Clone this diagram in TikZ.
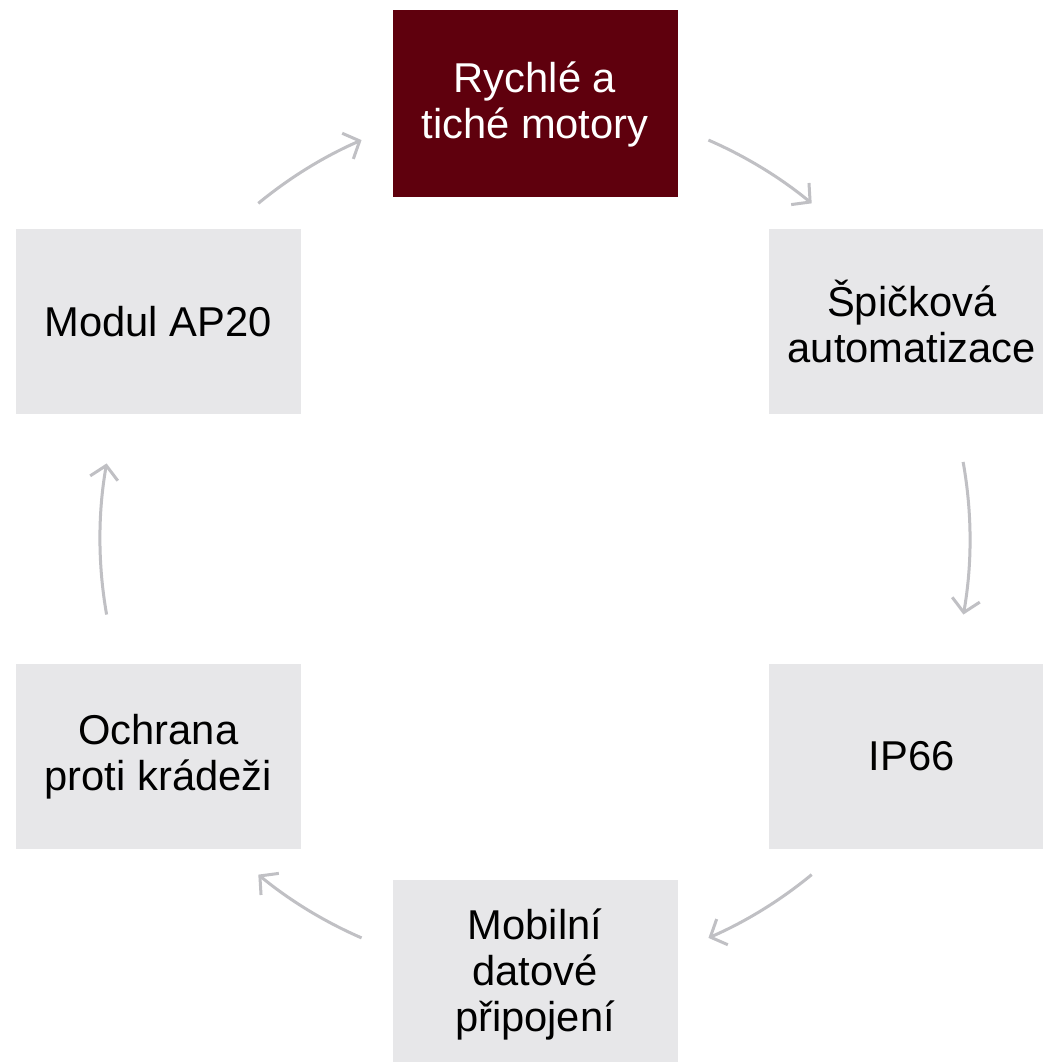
\documentclass[tikz,border=0pt]{standalone}
\usepackage{fontspec}
\setmainfont{Liberation Sans}
\usetikzlibrary{arrows.meta,calc}
\definecolor{boxgray}{HTML}{E7E7E9}
\definecolor{darkred}{HTML}{5F000D}
\definecolor{arrgray}{HTML}{C0C0C4}
\tikzset{
  stepbox/.style={draw=none, fill=boxgray, minimum width=285pt, minimum height=185pt,
    inner sep=0pt, align=center, text=black,
    font=\fontsize{41.7pt}{46pt}\selectfont},
  topbox/.style={stepbox, fill=darkred, text=white, minimum height=187pt},
  cyc/.style={draw=arrgray, line width=3pt,
    -{Straight Barb[length=13pt, width=28pt, line width=3pt]}}
}
\begin{document}
\begin{tikzpicture}[x=1pt,y=1pt]
\useasboundingbox (0,0) rectangle (1043,1062);
\clip (0,0) rectangle (1043,1062);
\fill[white] (0,0) rectangle (1043,1062);
\coordinate (c) at (535,523);
\node[topbox] (n1) at ($(c)+(90:435pt)$) {Rychlé a\\tiché motory};
\node[stepbox] (n2) at ($(c)+(30:435pt)$) {Špičková\\automatizace};
\node[stepbox] (n3) at ($(c)+(-30:435pt)$) {IP66};
\node[stepbox, minimum height=187pt] (n4) at ($(c)+(-90:435pt)$) {Mobilní\\datové\\připojení};
\node[stepbox] (n5) at ($(c)+(-150:435pt)$) {Ochrana\\proti krádeži};
\node[stepbox] (n6) at ($(c)+(150:435pt)$) {Modul AP20};
\draw[cyc] ($(c)+(129.5:435pt)$) arc[start angle=129.5, end angle=113.5, radius=435pt];
\draw[cyc] ($(c)+(66.5:435pt)$) arc[start angle=66.5, end angle=50.5, radius=435pt];
\draw[cyc] ($(c)+(10.2:435pt)$) arc[start angle=10.2, end angle=-10, radius=435pt];
\draw[cyc] ($(c)+(-50.5:435pt)$) arc[start angle=-50.5, end angle=-66.5, radius=435pt];
\draw[cyc] ($(c)+(-113.5:435pt)$) arc[start angle=-113.5, end angle=-129.5, radius=435pt];
\draw[cyc] ($(c)+(-170:435pt)$) arc[start angle=-170, end angle=-190, radius=435pt];
\end{tikzpicture}
\end{document}
